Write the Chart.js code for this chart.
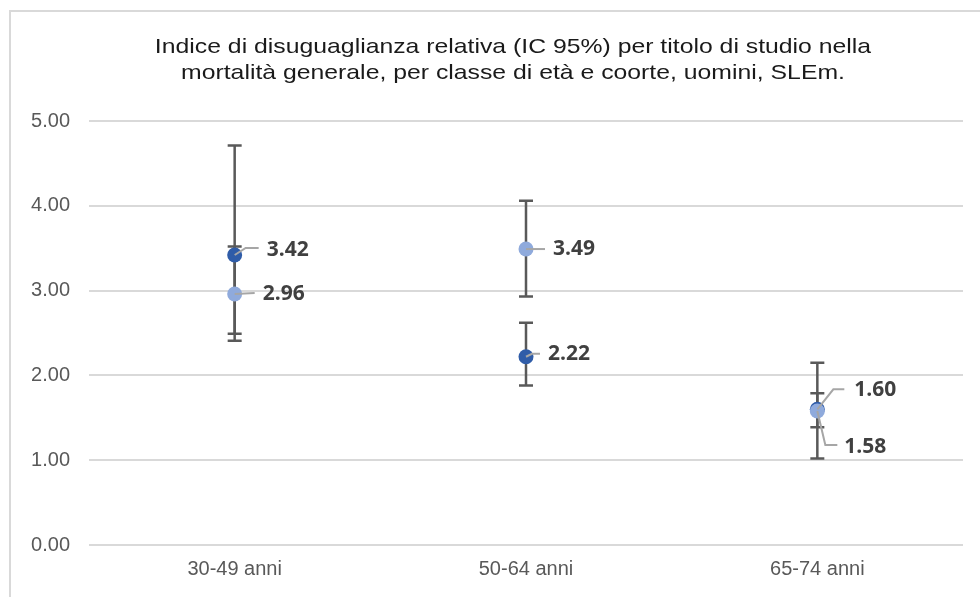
<!DOCTYPE html>
<html>
<head>
<meta charset="utf-8">
<script src="https://cdn.jsdelivr.net/npm/chart.js@4.4.1/dist/chart.umd.min.js"></script>
<style>
  html, body { margin: 0; padding: 0; background: #ffffff; }
  #wrap { width: 980px; height: 597px; position: relative; }
</style>
</head>
<body>
<div id="wrap"><canvas id="c" width="980" height="597"></canvas></div>
<script>
// Age classes
const categories = ['30-49 anni', '50-64 anni', '65-74 anni'];

// Cohort A (dark markers): RII with 95% CI
const riiDark = [3.42, 2.22, 1.60];
const ciLowDark = [2.41, 1.88, 1.02];
const ciHighDark = [4.71, 2.62, 2.15];

// Cohort B (light markers): RII with 95% CI
const riiLight = [2.96, 3.49, 1.58];
const ciLowLight = [2.49, 2.93, 1.39];
const ciHighLight = [3.52, 4.06, 1.79];

// Y axis range
const yMin = 0;
const yMax = 5;
const yStep = 1;

const titleLines = [
  'Indice di disuguaglianza relativa (IC 95%) per titolo di studio nella',
  'mortalità generale, per classe di età e coorte, uomini, SLEm.'
];

const DARK = '#2F5CA8';
const LIGHT = '#8FAADC';
const GRID = '#D9D9D9';
const AXIS_TEXT = '#595959';
const LABEL_TEXT = '#404040';
const LEADER = '#A6A6A6';
const SANS = '"Liberation Sans", Arial, sans-serif';

// White background and light gray frame around the chart
const framePlugin = {
  id: 'frame',
  beforeDraw(chart) {
    const ctx = chart.ctx;
    ctx.save();
    ctx.fillStyle = '#ffffff';
    ctx.fillRect(0, 0, chart.width, chart.height);
    ctx.strokeStyle = GRID;
    ctx.lineWidth = 2;
    ctx.strokeRect(10, 11, chart.width + 50, chart.height + 50);
    ctx.restore();
  }
};

// Two-line heading, slightly widened lettering
const headingPlugin = {
  id: 'heading',
  afterDraw(chart) {
    const ctx = chart.ctx;
    ctx.save();
    ctx.fillStyle = '#1a1a1a';
    ctx.font = '21px ' + SANS;
    ctx.textAlign = 'center';
    ctx.textBaseline = 'alphabetic';
    const baselines = [53, 79];
    titleLines.forEach((line, i) => {
      ctx.save();
      ctx.translate(513, baselines[i]);
      ctx.scale(1.18, 1);
      ctx.fillText(line, 0, 0);
      ctx.restore();
    });
    ctx.restore();
  }
};

// Vertical confidence-interval whiskers, drawn under the markers
const errorBarPlugin = {
  id: 'errorBars',
  beforeDatasetsDraw(chart) {
    const ctx = chart.ctx;
    const y = chart.scales.y;
    ctx.save();
    ctx.strokeStyle = '#595959';
    ctx.lineWidth = 2.5;
    chart.data.datasets.forEach((ds, di) => {
      const meta = chart.getDatasetMeta(di);
      meta.data.forEach((pt, i) => {
        const x = pt.x;
        const yl = y.getPixelForValue(ds.ciLow[i]);
        const yh = y.getPixelForValue(ds.ciHigh[i]);
        ctx.beginPath();
        ctx.moveTo(x, yl); ctx.lineTo(x, yh);
        ctx.moveTo(x - 7, yl); ctx.lineTo(x + 7, yl);
        ctx.moveTo(x - 7, yh); ctx.lineTo(x + 7, yh);
        ctx.stroke();
      });
    });
    ctx.restore();
  }
};

// Value labels with leader lines (pixel offsets from each marker)
const labelLayout = {
  dark: [
    { leader: [[11, -7], [24, -7]], tx: 32, ty: -5 },
    { leader: [[6, -3], [14, -3]], tx: 22, ty: -3 },
    { leader: [[16, -20], [27, -20]], tx: 37, ty: -19 }
  ],
  light: [
    { leader: [[20, -1]], tx: 28, ty: 0 },
    { leader: [[19, 0]], tx: 27, ty: 0 },
    { leader: [[8, 34], [20, 34]], tx: 27, ty: 36 }
  ]
};

const valueLabelPlugin = {
  id: 'valueLabels',
  afterDatasetsDraw(chart) {
    const ctx = chart.ctx;
    ctx.save();
    chart.data.datasets.forEach((ds, di) => {
      const meta = chart.getDatasetMeta(di);
      const layout = labelLayout[ds.key];
      meta.data.forEach((pt, i) => {
        const L = layout[i];
        ctx.strokeStyle = LEADER;
        ctx.lineWidth = 2;
        ctx.beginPath();
        ctx.moveTo(pt.x, pt.y);
        L.leader.forEach(p => ctx.lineTo(pt.x + p[0], pt.y + p[1]));
        ctx.stroke();
        ctx.fillStyle = LABEL_TEXT;
        ctx.font = 'bold 21px "Open Sans", "Liberation Sans", sans-serif';
        ctx.textAlign = 'left';
        ctx.textBaseline = 'middle';
        ctx.fillText(ds.data[i].toFixed(2), pt.x + L.tx, pt.y + L.ty);
      });
    });
    ctx.restore();
  }
};

new Chart(document.getElementById('c'), {
  type: 'line',
  data: {
    labels: categories,
    datasets: [
      {
        key: 'light',
        data: riiLight,
        ciLow: ciLowLight,
        ciHigh: ciHighLight,
        showLine: false,
        pointRadius: 7.5,
        pointBackgroundColor: LIGHT,
        pointBorderColor: LIGHT,
        pointBorderWidth: 0,
        order: 0
      },
      {
        key: 'dark',
        data: riiDark,
        ciLow: ciLowDark,
        ciHigh: ciHighDark,
        showLine: false,
        pointRadius: 7.5,
        pointBackgroundColor: DARK,
        pointBorderColor: DARK,
        pointBorderWidth: 0,
        order: 1
      }
    ]
  },
  options: {
    responsive: false,
    animation: false,
    layout: { padding: { left: 0, right: 17, top: 121, bottom: 0 } },
    plugins: {
      legend: { display: false },
      tooltip: { enabled: false },
      title: { display: false }
    },
    scales: {
      x: {
        offset: true,
        grid: { display: false, drawTicks: false },
        border: { display: false },
        ticks: {
          color: AXIS_TEXT,
          font: { family: SANS, size: 20 },
          padding: 12
        },
        afterFit(scale) { scale.height = 52; }
      },
      y: {
        min: yMin,
        max: yMax,
        grid: { color: GRID, lineWidth: 2, drawTicks: false },
        border: { display: false },
        ticks: {
          stepSize: yStep,
          color: AXIS_TEXT,
          font: { family: SANS, size: 20 },
          padding: 19,
          callback: v => Number(v).toFixed(2)
        },
        afterFit(scale) { scale.width = 89; }
      }
    }
  },
  plugins: [framePlugin, headingPlugin, errorBarPlugin, valueLabelPlugin]
});
</script>
</body>
</html>
